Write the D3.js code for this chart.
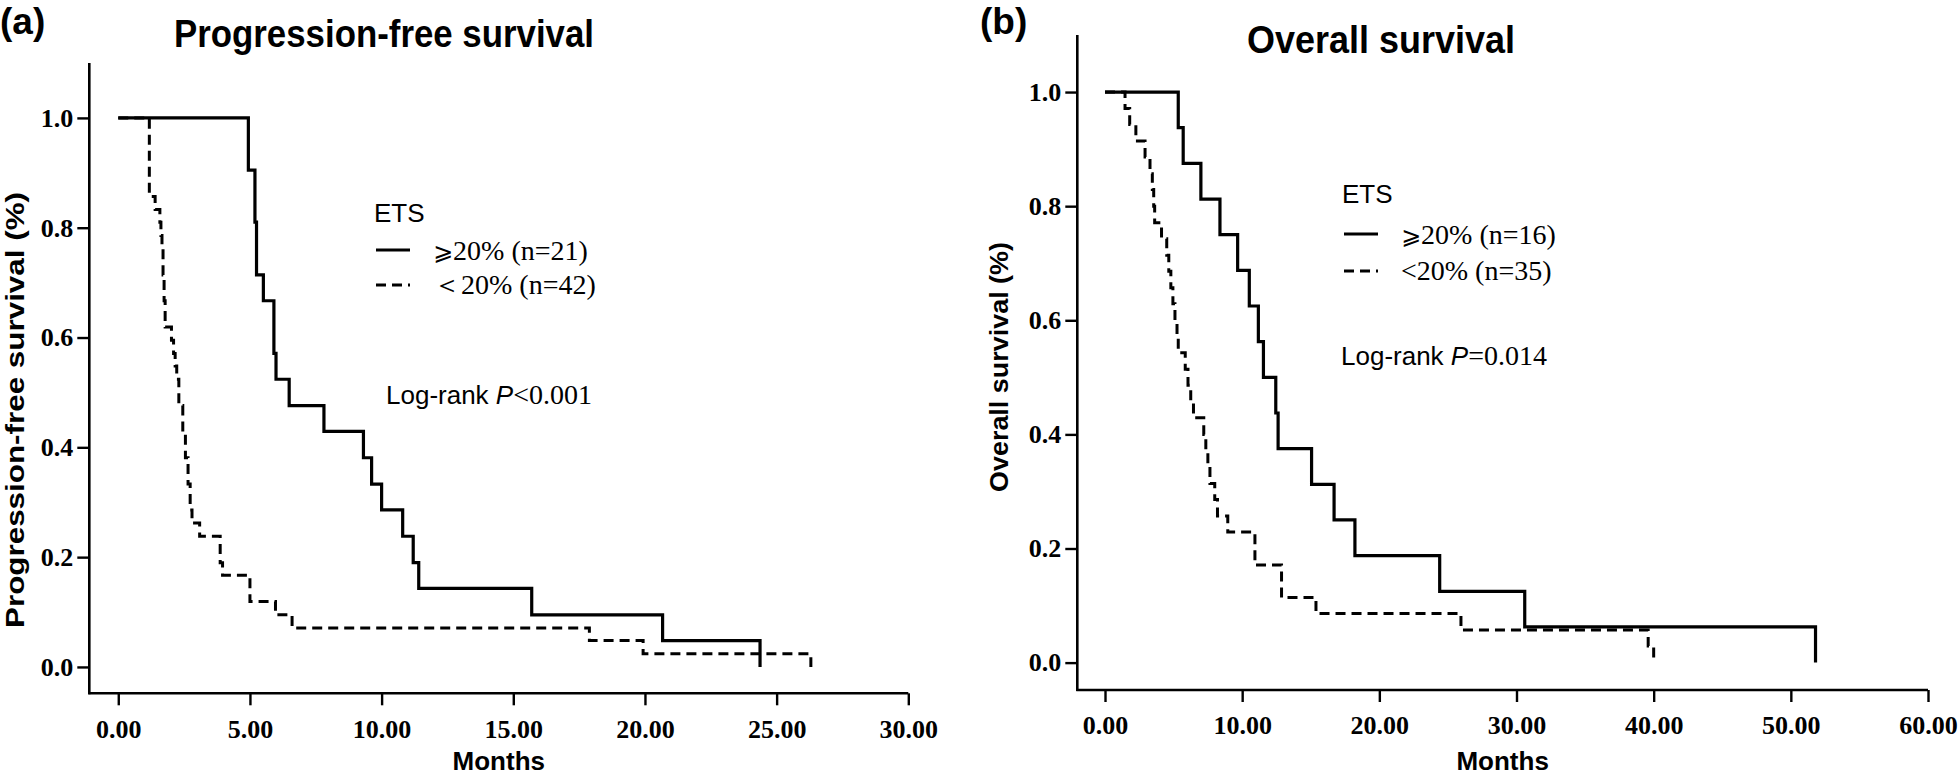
<!DOCTYPE html>
<html>
<head>
<meta charset="utf-8">
<script src="https://cdn.jsdelivr.net/npm/d3@7"></script>
<style>
  html, body { margin: 0; padding: 0; background: #fff; }
  svg { display: block; }
  .sans { font-family: "Liberation Sans", Arial, sans-serif; }
  .serif { font-family: "Liberation Serif", "Times New Roman", serif; }
</style>
</head>
<body>
<svg id="chart" width="1960" height="776"></svg>
<script>
// ---------------- DATA ----------------
// Panel (a) Progression-free survival
const pfsHighTimes = [0, 4.94, 5.19, 5.25, 5.51, 5.91, 5.99, 6.49, 7.81, 9.31, 9.62, 10.0, 10.8, 11.2, 11.41, 15.7, 20.67, 24.37];
const pfsHighSurv  = [1, 0.905, 0.810, 0.714, 0.667, 0.571, 0.524, 0.476, 0.429, 0.381, 0.333, 0.286, 0.238, 0.190, 0.143, 0.095, 0.048, 0.0];
const pfsLowTimes  = [0, 1.18, 1.40, 1.58, 1.62, 1.66, 1.70, 1.74, 1.78, 2.02, 2.10, 2.16, 2.22, 2.30, 2.45, 2.55, 2.65, 2.73, 2.80, 3.09, 3.87, 3.96, 5.00, 5.97, 6.60, 17.89, 19.93, 26.30];
const pfsLowSurv   = [1, 0.857, 0.833, 0.810, 0.786, 0.762, 0.714, 0.667, 0.619, 0.595, 0.571, 0.548, 0.524, 0.476, 0.429, 0.381, 0.333, 0.286, 0.262, 0.238, 0.190, 0.167, 0.119, 0.095, 0.071, 0.048, 0.024, 0.0];
const pfsXTicks = [0, 5, 10, 15, 20, 25, 30];

// Panel (b) Overall survival
const osHighTimes = [0, 5.34, 5.70, 6.99, 8.38, 9.67, 10.52, 11.18, 11.55, 12.45, 12.62, 15.06, 16.7, 18.22, 24.4, 30.6, 51.8];
const osHighSurv  = [1, 0.9375, 0.875, 0.8125, 0.75, 0.6875, 0.625, 0.5625, 0.5, 0.4375, 0.375, 0.3125, 0.25, 0.1875, 0.125, 0.0625, 0.0];
const osLowTimes  = [0, 1.46, 1.80, 2.25, 2.92, 3.28, 3.45, 3.55, 3.62, 4.12, 4.50, 4.65, 4.80, 4.95, 5.10, 5.25, 5.34, 5.85, 6.05, 6.25, 6.45, 7.20, 7.35, 7.50, 7.65, 8.00, 8.20, 8.95, 10.93, 12.87, 15.38, 25.95, 39.6, 40.0];
const osLowSurv   = [1, 0.971, 0.943, 0.914, 0.886, 0.857, 0.829, 0.800, 0.771, 0.743, 0.714, 0.686, 0.657, 0.629, 0.600, 0.571, 0.543, 0.514, 0.486, 0.457, 0.429, 0.400, 0.371, 0.343, 0.314, 0.286, 0.257, 0.229, 0.171, 0.114, 0.086, 0.057, 0.029, 0.0];
const osXTicks = [0, 10, 20, 30, 40, 50, 60];

const yTicks = [0, 0.2, 0.4, 0.6, 0.8, 1.0];

// ---------------- DRAW ----------------
const svg = d3.select("#chart");

function panel(cfg) {
  const g = svg.append("g");
  const x = d3.scaleLinear().domain([cfg.xMin, cfg.xMax]).range([cfg.left, cfg.right]);
  const y = d3.scaleLinear().domain([-0.048, 1.10]).range([cfg.bottom, cfg.top]);

  // axis lines (frame: left + bottom)
  g.append("line").attr("x1", cfg.left).attr("x2", cfg.left)
    .attr("y1", cfg.top).attr("y2", cfg.bottom + 1)
    .attr("stroke", "#000").attr("stroke-width", 2.6);
  g.append("line").attr("x1", cfg.left - 1).attr("x2", cfg.right)
    .attr("y1", cfg.bottom).attr("y2", cfg.bottom)
    .attr("stroke", "#000").attr("stroke-width", 2.6);

  // y axis ticks
  const ya = d3.axisLeft(y).tickValues(yTicks).tickFormat(d3.format(".1f"))
    .tickSize(12).tickSizeOuter(0).tickPadding(4);
  const yg = g.append("g").attr("transform", `translate(${cfg.left},0)`).call(ya);
  yg.select(".domain").remove();
  yg.selectAll(".tick line").attr("stroke", "#000").attr("stroke-width", 2.4);
  yg.selectAll(".tick text").attr("class", "serif").attr("font-size", 26)
    .attr("font-weight", "bold").attr("fill", "#000");

  // x axis ticks
  const xa = d3.axisBottom(x).tickValues(cfg.xTicks).tickFormat(d3.format(".2f"))
    .tickSize(12).tickSizeOuter(0).tickPadding(14);
  const xg = g.append("g").attr("transform", `translate(0,${cfg.bottom})`).call(xa);
  xg.select(".domain").remove();
  xg.selectAll(".tick line").attr("stroke", "#000").attr("stroke-width", 2.4);
  xg.selectAll(".tick text").attr("class", "serif").attr("font-size", 26)
    .attr("font-weight", "bold").attr("fill", "#000");

  // curves
  const line = d3.line().x(d => x(d[0])).y(d => y(d[1])).curve(d3.curveStepAfter);
  const low = d3.zip(cfg.lowT, cfg.lowS);
  const high = d3.zip(cfg.highT, cfg.highS);
  g.append("path").attr("d", line(low)).attr("fill", "none")
    .attr("stroke", "#000").attr("stroke-width", 3).attr("stroke-dasharray", "10,6");
  g.append("path").attr("d", line(high)).attr("fill", "none")
    .attr("stroke", "#000").attr("stroke-width", 3.2);

  // axis titles
  g.append("text").attr("class", "sans").attr("font-weight", "bold").attr("font-size", 26)
    .attr("text-anchor", "middle").attr("x", (cfg.left + cfg.right) / 2).attr("y", 770)
    .text("Months");
  g.append("text").attr("class", "sans").attr("font-weight", "bold").attr("font-size", 25)
    .attr("text-anchor", "middle")
    .attr("textLength", cfg.yTitleLen).attr("lengthAdjust", "spacingAndGlyphs")
    .attr("transform", `translate(${cfg.yTitleX},${cfg.yTitleY}) rotate(-90)`)
    .text(cfg.yTitle);

  // panel letter and title
  g.append("text").attr("class", "sans").attr("font-weight", "bold").attr("font-size", 37)
    .attr("x", cfg.letterX).attr("y", 34).text(cfg.letter);
  g.append("text").attr("class", "sans").attr("font-weight", "bold").attr("font-size", 38)
    .attr("textLength", cfg.titleLen).attr("lengthAdjust", "spacingAndGlyphs")
    .attr("x", cfg.titleX).attr("y", cfg.titleY).text(cfg.title);

  // legend
  const L = cfg.legend;
  g.append("text").attr("class", "sans").attr("font-size", 26)
    .attr("x", L.x).attr("y", L.etsY).text("ETS");
  g.append("line").attr("x1", L.x + 2).attr("x2", L.x + 36)
    .attr("y1", L.solidY).attr("y2", L.solidY)
    .attr("stroke", "#000").attr("stroke-width", 3.2);
  g.append("line").attr("x1", L.x + 2).attr("x2", L.x + 36)
    .attr("y1", L.dashY).attr("y2", L.dashY)
    .attr("stroke", "#000").attr("stroke-width", 3).attr("stroke-dasharray", "10,6");
  const t1 = g.append("text").attr("class", "serif").attr("font-size", 28)
    .attr("x", L.textX).attr("y", L.solidY + 10);
  t1.append("tspan").attr("font-family", "DejaVu Sans").attr("font-size", 24).text("⩾");
  t1.append("tspan").text(L.high);
  const t2 = g.append("text").attr("class", "serif").attr("font-size", 28)
    .attr("x", L.textX).attr("y", L.dashY + 9);
  t2.append("tspan").text(L.lowSym);
  t2.append("tspan").text(L.low);

  const lr = g.append("text").attr("class", "sans").attr("font-size", 26)
    .attr("x", L.lrX).attr("y", L.lrY);
  lr.append("tspan").text("Log-rank ");
  lr.append("tspan").attr("font-style", "italic").text("P");
  lr.append("tspan").attr("class", "serif").attr("font-size", 28).text(L.p);
}

panel({
  left: 89.3, right: 908.3, top: 63, bottom: 693.3,
  xMin: -1.1, xMax: 30, xTicks: pfsXTicks,
  highT: pfsHighTimes, highS: pfsHighSurv, lowT: pfsLowTimes, lowS: pfsLowSurv,
  yTitle: "Progression-free survival (%)", yTitleX: 24, yTitleY: 410, yTitleLen: 436,
  letter: "(a)", letterX: 0,
  title: "Progression-free survival", titleX: 174, titleY: 47, titleLen: 420,
  legend: { x: 374, etsY: 222, solidY: 250, dashY: 285, textX: 433,
            high: "20% (n=21)", lowSym: "＜", low: "20% (n=42)",
            lrX: 386, lrY: 404, p: "<0.001" }
});

panel({
  left: 1077.3, right: 1928, top: 35, bottom: 690,
  xMin: -2.02, xMax: 60, xTicks: osXTicks,
  highT: osHighTimes, highS: osHighSurv, lowT: osLowTimes, lowS: osLowSurv,
  yTitle: "Overall survival (%)", yTitleX: 1008, yTitleY: 367, yTitleLen: 250,
  letter: "(b)", letterX: 980,
  title: "Overall survival", titleX: 1247, titleY: 53, titleLen: 268,
  legend: { x: 1342, etsY: 203, solidY: 234, dashY: 271, textX: 1401,
            high: "20% (n=16)", lowSym: "<", low: "20% (n=35)",
            lrX: 1341, lrY: 365, p: "=0.014" }
});
</script>
</body>
</html>
